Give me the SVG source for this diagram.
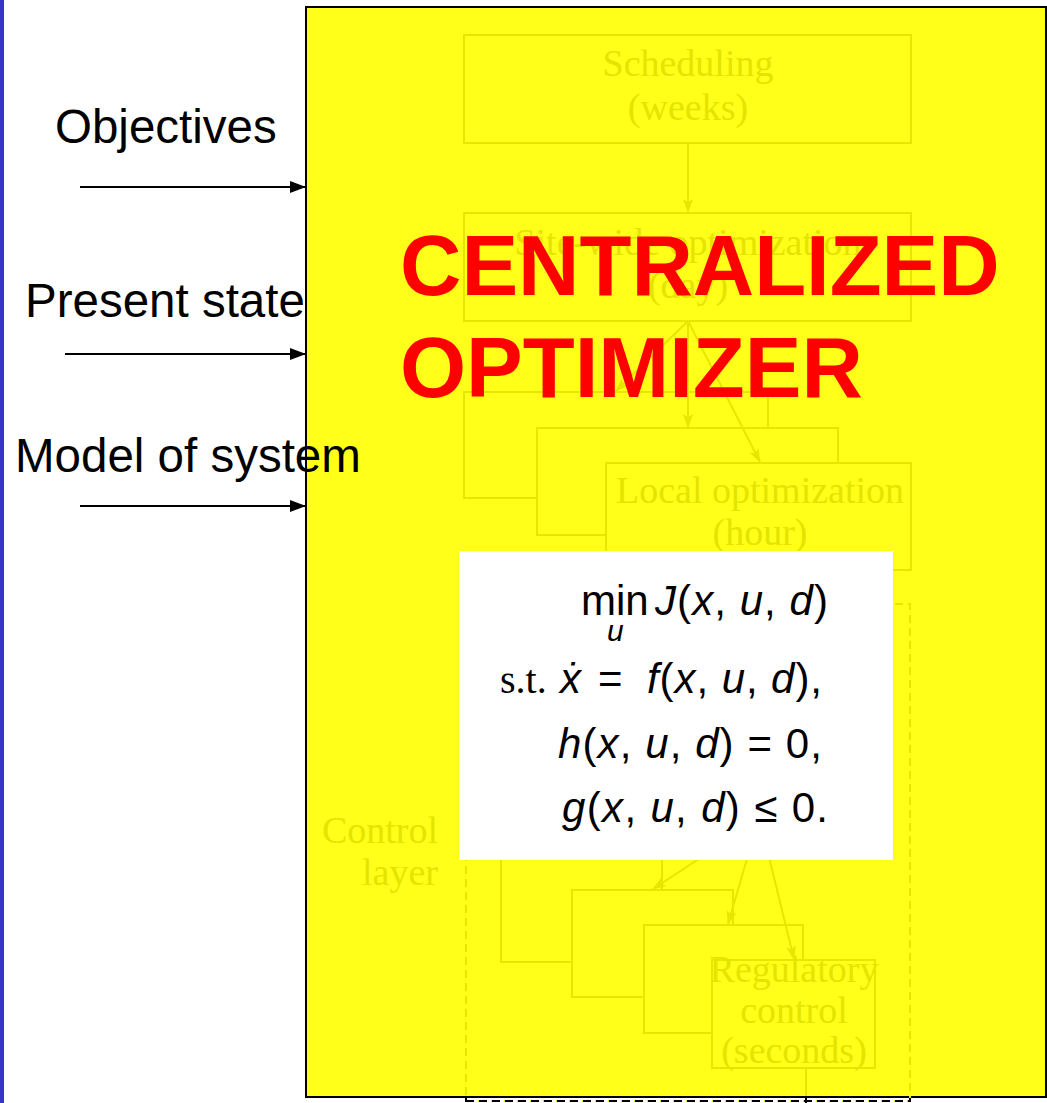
<svg xmlns="http://www.w3.org/2000/svg" width="1047" height="1103" viewBox="0 0 1047 1103">
<style>
.faint{fill:#ffff1a;stroke:#e6e600;stroke-width:2}
.fline{fill:none;stroke:#e6e600;stroke-width:2}
.ftext{font-family:"Liberation Serif","Times New Roman",serif;font-size:38px;fill:#e4e400;text-anchor:middle}
.lbl{font-family:"Liberation Sans",Arial,sans-serif;font-size:47.5px;fill:#000}
.red{font-family:"Liberation Sans",Arial,sans-serif;font-size:85px;font-weight:bold;fill:#ff0000}
.m{font-family:"Liberation Sans",Arial,sans-serif;font-size:42px;fill:#000}
.it{font-style:italic}
.conn{stroke:#000;stroke-width:2;fill:none}
</style>
<defs>
<marker id="ah" markerWidth="16" markerHeight="12" refX="15" refY="6" orient="auto" markerUnits="userSpaceOnUse">
<path d="M0,0 L16,6 L0,12 Z" fill="#000"/>
</marker>
<marker id="fa" markerWidth="14" markerHeight="10" refX="13" refY="5" orient="auto" markerUnits="userSpaceOnUse">
<path d="M0,0 L14,5 L0,10 L3,5 Z" fill="#e6e600"/>
</marker>
</defs>
<rect x="0" y="0" width="1047" height="1103" fill="#ffffff"/>
<rect x="0" y="0" width="4" height="1103" fill="#3535c8"/>

<g id="centralized-optimizer">
<rect x="306" y="7" width="740" height="1090" fill="#ffff1a" stroke="#000" stroke-width="2"/>
</g>

<g id="faint-hierarchy">
<g id="scheduling">
<rect class="faint" x="464" y="35" width="447" height="108"/>
<text class="ftext" x="688" y="76">Scheduling</text>
<text class="ftext" x="688" y="120">(weeks)</text>
</g>
<g id="site-wide">
<rect class="faint" x="464" y="213" width="447" height="108"/>
<text class="ftext" x="688" y="255">Site-wide optimization</text>
<text class="ftext" x="688" y="298">(day)</text>
</g>
<g id="local-a"><rect class="faint" x="464" y="392" width="304" height="106"/></g>
<g id="local-b"><rect class="faint" x="537" y="428" width="301" height="107"/></g>
<g id="local-c">
<rect class="faint" x="606" y="463" width="305" height="107"/>
<text class="ftext" x="760" y="503">Local optimization</text>
<text class="ftext" x="760" y="545">(hour)</text>
</g>
<g id="control-layer">
<rect x="466" y="604" width="444" height="497" fill="none" stroke="#e6e600" stroke-width="2" stroke-dasharray="8,5"/>
<text class="ftext" x="438" y="843" style="text-anchor:end">Control</text>
<text class="ftext" x="438" y="885" style="text-anchor:end">layer</text>
</g>
<g id="ctrl-d"><rect class="faint" x="501" y="800" width="161" height="162"/></g>
<g id="ctrl-e"><rect class="faint" x="572" y="890" width="161" height="107"/></g>
<g id="ctrl-f"><rect class="faint" x="644" y="925" width="159" height="108"/></g>
<g id="regulatory">
<rect class="faint" x="712" y="960" width="163" height="108"/>
<text class="ftext" x="794" y="982">Regulatory</text>
<text class="ftext" x="794" y="1023">control</text>
<text class="ftext" x="794" y="1063">(seconds)</text>
</g>
</g>

<g id="connectors">
<line class="fline" x1="688" y1="143" x2="688" y2="212" marker-end="url(#fa)"/>
<line class="fline" x1="688" y1="321" x2="616" y2="391" marker-end="url(#fa)"/>
<line class="fline" x1="688" y1="321" x2="688" y2="427" marker-end="url(#fa)"/>
<line class="fline" x1="688" y1="321" x2="760" y2="462" marker-end="url(#fa)"/>
<line class="fline" x1="720" y1="845" x2="653" y2="889" marker-end="url(#fa)"/>
<line class="fline" x1="751" y1="845" x2="728" y2="924" marker-end="url(#fa)"/>
<line class="fline" x1="766" y1="845" x2="794" y2="959" marker-end="url(#fa)"/>
<line class="fline" x1="806" y1="1068" x2="806" y2="1096"/>
<line class="conn" x1="806" y1="1098" x2="806" y2="1103"/>
<line x1="466" y1="1101" x2="910" y2="1101" stroke="#000" stroke-width="2" stroke-dasharray="8,5"/>
<line class="conn" x1="466" y1="1098" x2="466" y2="1102"/>
<line class="conn" x1="910" y1="1098" x2="910" y2="1102"/>
<line class="conn" x1="80" y1="187" x2="305" y2="187" marker-end="url(#ah)"/>
<line class="conn" x1="65" y1="354" x2="305" y2="354" marker-end="url(#ah)"/>
<line class="conn" x1="80" y1="506" x2="305" y2="506" marker-end="url(#ah)"/>
</g>

<g id="title">
<text class="red" x="400" y="295">CENTRALIZED</text>
<text class="red" x="400" y="397">OPTIMIZER</text>
</g>

<g id="formula">
<rect x="459" y="551" width="434" height="309" fill="#ffffff"/>
<text class="m" x="581" y="615">min</text>
<text class="m it" x="607" y="641" style="font-size:30px">u</text>
<text class="m" x="655" y="615" textLength="173" lengthAdjust="spacing"><tspan class="it">J</tspan>(<tspan class="it">x</tspan>, <tspan class="it">u</tspan>, <tspan class="it">d</tspan>)</text>
<text x="500" y="693" style="font-family:'Liberation Serif','Times New Roman',serif;font-size:40px;fill:#000">s.t.</text>
<text class="m it" x="560" y="693">x&#x307;</text>
<text class="m" x="598" y="693">=</text>
<text class="m" x="647" y="693" textLength="175" lengthAdjust="spacing"><tspan class="it">f</tspan>(<tspan class="it">x</tspan>, <tspan class="it">u</tspan>, <tspan class="it">d</tspan>),</text>
<text class="m" x="558" y="758" textLength="264" lengthAdjust="spacing"><tspan class="it">h</tspan>(<tspan class="it">x</tspan>, <tspan class="it">u</tspan>, <tspan class="it">d</tspan>) = 0,</text>
<text class="m" x="562" y="822" textLength="266" lengthAdjust="spacing"><tspan class="it">g</tspan>(<tspan class="it">x</tspan>, <tspan class="it">u</tspan>, <tspan class="it">d</tspan>) ≤ 0.</text>
</g>

<g id="inputs">
<text class="lbl" x="55" y="143">Objectives</text>
<text class="lbl" x="25" y="317">Present state</text>
<text class="lbl" x="15" y="472">Model of system</text>
</g>
</svg>
